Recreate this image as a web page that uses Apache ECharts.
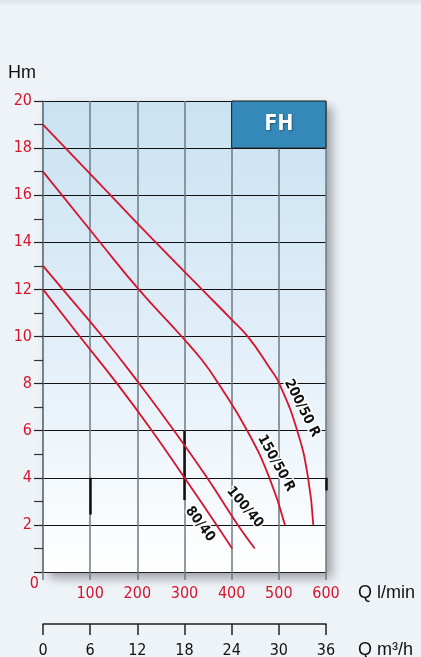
<!DOCTYPE html>
<html>
<head>
<meta charset="utf-8">
<script src="https://cdn.jsdelivr.net/npm/echarts@6/dist/echarts.min.js"></script>
<style>
html,body{margin:0;padding:0;}
body{width:421px;height:657px;overflow:hidden;
 background:linear-gradient(to bottom,#dfe4e9 0px,#e8edf1 4px,#eef3f8 6px,#eef3f8 100%);}
#c{width:421px;height:657px;}
</style>
</head>
<body>
<div id="c"></div>
<script>
// ---- data (Q in l/min, H in m) ----
const qTicksLpm = [0,100,200,300,400,500,600];
const qTicksM3h = [0,6,12,18,24,30,36];
const hTicks = [0,2,4,6,8,10,12,14,16,18,20];
const curveNames = ['200/50 R','150/50 R','100/40','80/40'];
const curve200 = [[0,19],[136,16.15],[234,14.1],[337,12],[400,10.72],[436,9.95],[481,8.65],[501,8],[539,6],[562,4],[573,2]];
const curve150 = [[0,17],[117,14.1],[203,12],[294,10],[337,9],[372,8],[433,6],[480,4],[513,2]];
const curve100 = [[0,13],[42,12],[126,10],[204,8],[278,6],[348,4],[413,2],[449,1]];
const curve80  = [[0,12],[78,10],[157,8],[231,6],[300,4],[368,2],[401,1]];
const fhBox = [[400,18],[600,20]];
const darkSegments = [[100,4,2.44],[300,6,3.05],[600,4,3.46]];
// label anchors (data coords) and angles
const labelAnchors = [[549,6.96],[494,4.62],[428,2.75],[333,2.03]];
const labelAngles = [63,61,50,53];

const RED = '#d7142e';
const NARROW = "'Liberation Sans Narrow','DejaVu Sans Condensed','Roboto Condensed',sans-serif";
const REG = "'Liberation Sans',Arial,sans-serif";

const chart = echarts.init(document.getElementById('c'), null, {renderer:'canvas', width:421, height:657});

const curves = [curve200, curve150, curve100, curve80];

const series = curves.map((d,i)=>({
  type:'line', name:curveNames[i], xAxisIndex:0, yAxisIndex:0,
  data:d, showSymbol:false, symbol:'none', smooth:0.5,
  lineStyle:{color:RED, width:1.8}, z:5, silent:true
}));
series.push({
  type:'line', xAxisIndex:0, yAxisIndex:0, data:[], silent:true, z:4,
  markArea:{silent:true,
    itemStyle:{color:'#3589b9', borderColor:'#1a1a1a', borderWidth:1, opacity:1},
    label:{show:true, position:'inside', formatter:'FH', color:'#fff', fontSize:21, fontWeight:'bold',
      fontFamily:NARROW, textShadowColor:'rgba(0,0,0,0.35)', textShadowBlur:2, textShadowOffsetX:1, textShadowOffsetY:1},
    data:[[{coord:fhBox[0]},{coord:fhBox[1]}]]
  },
  markLine:{silent:true, symbol:['none','none'], label:{show:false},
    lineStyle:{color:'#111', width:2.5, type:'solid'},
    data: darkSegments.map(s=>[{coord:[s[0],s[1]]},{coord:[s[0],s[2]]}])
  }
});

chart.setOption({
  animation:false,
  backgroundColor:'transparent',
  grid:[
    {left:43, right:95, top:101, bottom:85, show:true, borderWidth:0,
     backgroundColor:new echarts.graphic.LinearGradient(0,0,0,1,[
       {offset:0,color:'#c9e2f2'},{offset:0.5,color:'#e1eef8'},{offset:0.85,color:'#f6fafd'},{offset:1,color:'#ffffff'}]),
     shadowBlur:10, shadowColor:'rgba(0,0,0,0.35)', shadowOffsetX:6, shadowOffsetY:6},
    {left:43, right:95, top:624, height:0}
  ],
  xAxis:[
    {type:'value', gridIndex:0, min:qTicksLpm[0], max:qTicksLpm[qTicksLpm.length-1], interval:100,
     axisLine:{show:true, onZero:false, lineStyle:{color:'#222', width:1.2}},
     axisTick:{show:true, length:8, lineStyle:{color:'#6f7a83', width:1.5}},
     axisLabel:{color:RED, fontSize:16, fontFamily:NARROW, margin:14,
       formatter:v=> v===0 ? '' : String(v)},
     splitLine:{show:true, lineStyle:{color:'#6f7a83', width:1.5}},
     name:'Q l/min', nameLocation:'end', nameGap:32,
     nameTextStyle:{color:'#111', fontSize:18, fontFamily:REG, align:'left', verticalAlign:'top', padding:[12,0,0,0]}
    },
    {type:'value', gridIndex:1, min:qTicksM3h[0], max:qTicksM3h[qTicksM3h.length-1], interval:6,
     axisLine:{show:true, onZero:false, lineStyle:{color:'#222', width:1.5}},
     axisTick:{show:true, length:11, lineStyle:{color:'#222', width:1.5}},
     axisLabel:{color:'#111', fontSize:16, fontFamily:NARROW, margin:19},
     splitLine:{show:false},
     name:'Q m³/h', nameLocation:'end', nameGap:32,
     nameTextStyle:{color:'#111', fontSize:18, fontFamily:REG, align:'left', verticalAlign:'top', padding:[17,0,0,0]}
    }
  ],
  yAxis:[
    {type:'value', gridIndex:0, min:hTicks[0], max:hTicks[hTicks.length-1], interval:2,
     axisLine:{show:true, onZero:false, lineStyle:{color:'#6f7a83', width:1.5}},
     axisTick:{show:true, length:9, lineStyle:{color:'#222', width:1.2}},
     minorTick:{show:true, splitNumber:2, length:9, lineStyle:{color:'#333', width:1.2}},
     axisLabel:{color:RED, fontSize:16, fontFamily:NARROW, margin:11,
       formatter:v=> v===0 ? '' : String(v)},
     splitLine:{show:true, lineStyle:{color:'#111', width:1.2}},
     name:'Hm', nameLocation:'end', nameGap:19,
     nameTextStyle:{color:'#111', fontSize:18, fontFamily:REG, align:'right', padding:[0,7,0,0]}
    },
    {type:'value', gridIndex:1, show:false, min:0, max:1}
  ],
  series:series
});

// curve labels and the origin "0"
const graphics = curveNames.map((name,i)=>{
  const p = chart.convertToPixel({gridIndex:0}, labelAnchors[i]);
  return {type:'text', x:p[0], y:p[1], rotation:-labelAngles[i]*Math.PI/180, z:10,
    style:{text:name, fill:'#111', font:'bold 14px '+NARROW, align:'center', verticalAlign:'middle',
      stroke:'rgba(255,255,255,0.95)', lineWidth:3}};
});
const o = chart.convertToPixel({gridIndex:0}, [0,0]);
graphics.push({type:'text', x:o[0]-4, y:o[1]+12, z:10,
  style:{text:'0', fill:RED, font:'16px '+NARROW, align:'right', verticalAlign:'middle'}});
chart.setOption({graphic:graphics});
</script>
</body>
</html>
